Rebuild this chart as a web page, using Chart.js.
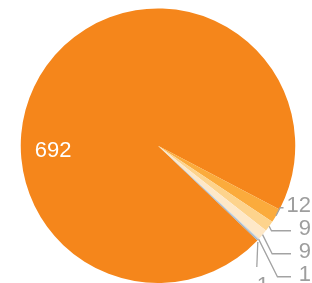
<!DOCTYPE html>
<html>
<head>
<meta charset="utf-8">
<script src="https://cdn.jsdelivr.net/npm/chart.js@4"></script>
<style>
  html, body { margin: 0; padding: 0; background: #fff; }
  #wrap { width: 312px; height: 283px; position: relative; }
</style>
</head>
<body>
<div id="wrap"><canvas id="pieChart"></canvas></div>
<script>
// chart data
const categories = ["A", "B", "C", "D", "E", "F"];
const values = [692, 12, 9, 9, 1, 1];
const colors = ["#f5861b", "#fbab3c", "#fdd38c", "#fee8c8", "#c9d3dc", "#9fb0bf"];

const FONT = '22px "Liberation Sans", Arial, sans-serif';

// draws the value labels: big slice inside, small ones outside with leader lines
const sliceLabels = {
    id: "sliceLabels",
    afterDatasetsDraw(chart) {
        const ctx = chart.ctx;
        const arcs = chart.getDatasetMeta(0).data;
        const data = chart.data.datasets[0].data;
        ctx.save();
        ctx.font = FONT;
        ctx.textBaseline = "middle";

        let prevY = -Infinity;
        arcs.forEach((arc, i) => {
            const mid = (arc.startAngle + arc.endAngle) / 2;
            const r = arc.outerRadius;
            const text = String(data[i]);

            if (i === 0) {
                // main slice label, white, inside the pie
                const a = Math.PI * 177 / 180;
                ctx.fillStyle = "#ffffff";
                ctx.textAlign = "center";
                ctx.fillText(text, arc.x + Math.cos(a) * r * 0.765, arc.y + Math.sin(a) * r * 0.765);
                return;
            }

            const ex = arc.x + Math.cos(mid) * r;
            const ey = arc.y + Math.sin(mid) * r;
            let ly = Math.max(ey - 10, prevY + 23);
            prevY = ly;

            ctx.strokeStyle = "#a3a3a3";
            ctx.lineWidth = 1.3;
            ctx.fillStyle = "#9e9e9e";

            if (ly > chart.height - 6) {
                // no room at the right: label goes under the edge point
                ctx.beginPath();
                ctx.moveTo(ex, ey + 2);
                ctx.lineTo(ex - 1, ey + 27);
                ctx.stroke();
                ctx.textAlign = "center";
                ctx.fillText(text, ex + 5, ey + 46);
                return;
            }

            const right = 311;
            const w = ctx.measureText(text).width;
            const endX = Math.min(291, right - w - 3);
            const lineY = ly + 2;
            const elbowX = ex + Math.abs(lineY - ey) * 0.5;

            ctx.beginPath();
            ctx.moveTo(ex, ey);
            ctx.lineTo(elbowX, lineY);
            ctx.lineTo(endX, lineY);
            ctx.stroke();

            ctx.textAlign = "right";
            ctx.fillText(text, right, ly);
        });
        ctx.restore();
    }
};

new Chart(document.getElementById("pieChart"), {
    type: "pie",
    data: {
        labels: categories,
        datasets: [{
            data: values,
            backgroundColor: colors,
            borderWidth: 0
        }]
    },
    options: {
        responsive: true,
        maintainAspectRatio: false,
        animation: false,
        rotation: 133.6,
        layout: { padding: { left: 20.5, top: 8.5, right: 16.5, bottom: 0 } },
        plugins: {
            legend: { display: false },
            tooltip: { enabled: false }
        }
    },
    plugins: [sliceLabels]
});
</script>
</body>
</html>
